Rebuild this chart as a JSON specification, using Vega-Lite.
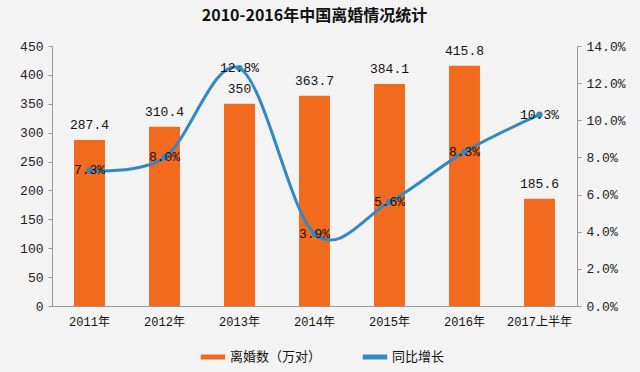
{
  "$schema": "https://vega.github.io/schema/vega-lite/v6.json",
  "autosize": {"type": "none"},
  "width": 525,
  "height": 260,
  "padding": {"left": 52, "top": 46, "right": 63, "bottom": 66},
  "background": "#f3f3f3",
  "title": {
    "text": "2010-2016年中国离婚情况统计",
    "font": "Noto Sans CJK SC",
    "fontSize": 16,
    "fontWeight": "bold",
    "color": "#111111",
    "offset": 16,
    "anchor": "middle"
  },
  "data": {
    "values": [
      {"year": "2011年", "count": 287.4, "growth": 0.073, "glabel": "7.3%"},
      {"year": "2012年", "count": 310.4, "growth": 0.080, "glabel": "8.0%"},
      {"year": "2013年", "count": 350, "growth": 0.128, "glabel": "12.8%"},
      {"year": "2014年", "count": 363.7, "growth": 0.039, "glabel": "3.9%"},
      {"year": "2015年", "count": 384.1, "growth": 0.056, "glabel": "5.6%"},
      {"year": "2016年", "count": 415.8, "growth": 0.083, "glabel": "8.3%"},
      {"year": "2017上半年", "count": 185.6, "growth": 0.103, "glabel": "10.3%"}
    ]
  },
  "encoding": {
    "x": {
      "field": "year",
      "type": "nominal",
      "sort": null,
      "scale": {"paddingInner": 0.587, "paddingOuter": 0.2935},
      "axis": {
        "title": null,
        "labelAngle": 0,
        "labelFont": "Liberation Mono, Noto Sans CJK SC",
        "labelFontSize": 12,
        "labelColor": "#111111",
        "domainColor": "#999999",
        "ticks": false,
        "labelPadding": 10
      }
    }
  },
  "layer": [
    {
      "encoding": {
        "y": {
          "field": "count",
          "type": "quantitative",
          "scale": {"domain": [0, 450], "nice": false},
          "axis": {
            "title": null,
            "values": [0, 50, 100, 150, 200, 250, 300, 350, 400, 450],
            "labelOverlap": false,
            "labelFlush": false,
            "grid": false,
            "labelFont": "Liberation Mono",
            "labelFontSize": 13,
            "labelColor": "#222222",
            "domainColor": "#999999",
            "tickColor": "#999999",
            "tickSize": 4,
            "labelPadding": 5
          }
        }
      },
      "layer": [
        {
          "mark": {"type": "bar", "color": "#f26a1e"},
          "encoding": {
            "color": {
              "datum": "离婚数（万对）",
              "type": "nominal",
              "scale": {"domain": ["离婚数（万对）", "同比增长"], "range": ["#f26a1e", "#3288c4"]},
              "legend": {
                "title": null,
                "orient": "none",
                "legendX": 146,
                "legendY": 296,
                "direction": "horizontal",
                "symbolType": "stroke",
                "symbolStrokeWidth": 5,
                "symbolSize": 600,
                "labelFont": "Noto Sans CJK SC",
                "labelFontSize": 13,
                "labelColor": "#111111",
                "columnPadding": 30,
                "labelOffset": 2
              }
            }
          }
        },
        {
          "mark": {"type": "text", "dy": -15, "font": "Liberation Mono", "fontSize": 13, "color": "#111111"},
          "encoding": {
            "text": {"field": "count", "type": "quantitative"}
          }
        }
      ]
    },
    {
      "encoding": {
        "y": {
          "field": "growth",
          "type": "quantitative",
          "scale": {"domain": [0, 0.14], "nice": false},
          "axis": {
            "title": null,
            "orient": "right",
            "format": ".1%",
            "values": [0, 0.02, 0.04, 0.06, 0.08, 0.1, 0.12, 0.14],
            "labelOverlap": false,
            "labelFlush": false,
            "grid": false,
            "labelFont": "Liberation Mono",
            "labelFontSize": 13,
            "labelColor": "#222222",
            "domainColor": "#999999",
            "tickColor": "#999999",
            "tickSize": 4,
            "labelPadding": 5
          }
        }
      },
      "layer": [
        {
          "mark": {"type": "line", "interpolate": "cardinal", "strokeWidth": 3, "color": "#3288c4", "point": {"filled": true, "size": 40, "color": "#3288c4"}},
          "encoding": {
            "color": {"datum": "同比增长", "type": "nominal"}
          }
        },
        {
          "mark": {"type": "text", "font": "Liberation Mono", "fontSize": 13, "color": "#111111"},
          "encoding": {
            "text": {"field": "glabel", "type": "nominal"}
          }
        }
      ]
    }
  ],
  "resolve": {"scale": {"y": "independent"}},
  "config": {"view": {"stroke": null}}
}
